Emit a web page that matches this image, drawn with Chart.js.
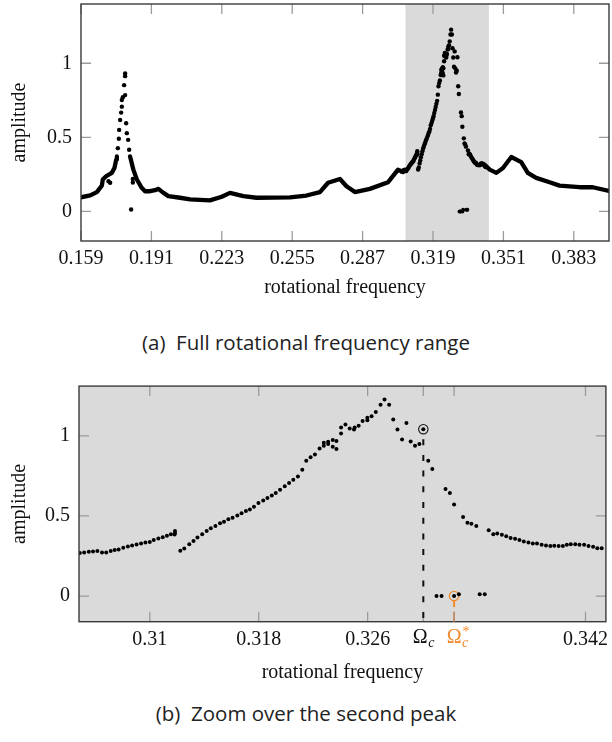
<!DOCTYPE html>
<html>
<head>
<meta charset="utf-8">
<script src="https://cdn.jsdelivr.net/npm/chart.js@4.4.0/dist/chart.umd.min.js"></script>
<style>
  html, body { margin: 0; padding: 0; background: #fff; }
  body { width: 612px; height: 742px; position: relative; overflow: hidden; }
  .box { position: absolute; left: 0; width: 612px; }
  .cap { position: absolute; left: 0; width: 612px; text-align: center; font-family: 'Open Sans', 'Noto Sans', sans-serif; font-size: 20.5px; line-height: 26px; color: #222; }
</style>
</head>
<body>
<div class="box" style="top:0;height:300px"><canvas id="full"></canvas></div>
<div class="cap" style="top:329px">(a)&nbsp; Full rotational frequency range</div>
<div class="box" style="top:380px;height:306px"><canvas id="zoom"></canvas></div>
<div class="cap" style="top:700px">(b)&nbsp; Zoom over the second peak</div>
<script>
// continuous branch of the full sweep (null = break in the curve)
const lineFreq = [0.1590, 0.1632, 0.1662, 0.1685, 0.1689, 0.1704, 0.1730, 0.1742, 0.1750, 0.1753, 0.1780,
  0.1813, 0.1828, 0.1844, 0.1866, 0.1881, 0.1904, 0.1927, 0.1942, 0.1965, 0.1987, 0.2040, 0.2086,
  0.2176, 0.2230, 0.2267, 0.2328, 0.2388, 0.2540, 0.2615, 0.2676, 0.2713, 0.2767, 0.2797, 0.2835,
  0.2903, 0.2986, 0.3031, 0.3054, 0.3100,
  0.3425, 0.3448, 0.3478, 0.3508, 0.3546, 0.3591, 0.3621, 0.3659, 0.3720, 0.3765, 0.3856, 0.3916, 0.3990];
const lineAmp = [0.095, 0.108, 0.130, 0.175, 0.215, 0.237, 0.260, 0.293, 0.349, 0.371, null,
  0.371, 0.282, 0.215, 0.159, 0.136, 0.136, 0.143, 0.152, 0.125, 0.103, 0.092, 0.081,
  0.074, 0.099, 0.125, 0.103, 0.092, 0.094, 0.107, 0.130, 0.193, 0.219, 0.170, 0.130,
  0.152, 0.197, 0.282, 0.266, null,
  0.315, 0.282, 0.260, 0.293, 0.367, 0.333, 0.260, 0.226, 0.197, 0.174, 0.163, 0.163, 0.138];

// sparse points around the first peak
const peakFreq = [0.17575, 0.17620, 0.17634, 0.17679, 0.17725, 0.17756, 0.17756, 0.17802, 0.17906, 0.17861,
  0.17906, 0.17906, 0.17952, 0.17983, 0.18042, 0.18088, 0.17150, 0.17225, 0.18256, 0.18256, 0.18179];
const peakAmp = [0.427, 0.490, 0.550, 0.617, 0.667, 0.707, 0.752, 0.770, 0.785, 0.852,
  0.913, 0.931, 0.595, 0.528, 0.483, 0.416, 0.203, 0.193, 0.219, 0.195, 0.013];

// second peak, upper branch
const zoomFreq = [0.30486, 0.30518, 0.30552, 0.30583, 0.30615, 0.30649, 0.30680, 0.30713, 0.30742, 0.30771,
  0.30805, 0.30839, 0.30870, 0.30903, 0.30936, 0.30968, 0.31000, 0.31029, 0.31063, 0.31095,
  0.31126, 0.31155, 0.31185, 0.31185, 0.31182,
  0.31224, 0.31253, 0.31290, 0.31321, 0.31350, 0.31385, 0.31418, 0.31448, 0.31482, 0.31516,
  0.31545, 0.31577, 0.31608, 0.31643, 0.31674, 0.31706, 0.31735, 0.31765, 0.31798, 0.31833,
  0.31864, 0.31896, 0.31925, 0.31957, 0.31991, 0.32023, 0.32054, 0.32088, 0.32120, 0.32149,
  0.32181, 0.32213, 0.32247, 0.32278, 0.32278, 0.32310, 0.32310, 0.32344, 0.32344, 0.32371,
  0.32371, 0.32405, 0.32405, 0.32437, 0.32468, 0.32500, 0.32505, 0.32534, 0.32563, 0.32598,
  0.32598, 0.32629, 0.32660, 0.32695, 0.32724, 0.32758, 0.32788, 0.32819, 0.32853, 0.32885,
  0.32916, 0.32948, 0.32980, 0.33009, 0.33045, 0.33075, 0.33172, 0.33204, 0.33235, 0.33301,
  0.33333, 0.33362, 0.33398, 0.33489, 0.33523, 0.33552, 0.33586, 0.33618, 0.33650, 0.33683,
  0.33715, 0.33747, 0.33781, 0.33813, 0.33844, 0.33878, 0.33910, 0.33942, 0.33971, 0.34003,
  0.34034, 0.34063, 0.34092, 0.34125, 0.34156, 0.34190, 0.34222, 0.34256, 0.34287, 0.34319];
const zoomAmp = [0.268, 0.272, 0.276, 0.278, 0.281, 0.272, 0.272, 0.281, 0.287, 0.291,
  0.301, 0.309, 0.315, 0.322, 0.328, 0.334, 0.338, 0.349, 0.359, 0.367,
  0.377, 0.386, 0.394, 0.406, 0.384,
  0.283, 0.297, 0.324, 0.344, 0.365, 0.386, 0.406, 0.423, 0.437, 0.454,
  0.464, 0.479, 0.489, 0.503, 0.516, 0.530, 0.540, 0.557, 0.581, 0.596,
  0.612, 0.627, 0.643, 0.664, 0.685, 0.705, 0.726, 0.746, 0.788, 0.845,
  0.866, 0.884, 0.921, 0.938, 0.957, 0.963, 0.949, 0.973, 0.932, 0.967,
  0.918, 1.014, 1.051, 1.070, 1.045, 1.039, 1.051, 1.062, 1.093, 1.097,
  1.113, 1.122, 1.148, 1.194, 1.227, 1.194, 1.101, 1.039, 0.977, 1.080,
  0.965, 0.938, 0.949, 1.041, 0.845, 0.792, 0.668, 0.643, 0.571, 0.493,
  0.458, 0.451, 0.437, 0.411, 0.386, 0.390, 0.382, 0.373, 0.363, 0.357,
  0.349, 0.340, 0.334, 0.328, 0.328, 0.320, 0.315, 0.312, 0.314, 0.312,
  0.312, 0.320, 0.324, 0.324, 0.320, 0.320, 0.312, 0.307, 0.299, 0.299];

// second peak, lower branch
const lowFreq = [0.33106, 0.33143, 0.33235, 0.33270, 0.33423, 0.33460];
const lowAmp = [0.0, 0.0, 0.0, 0.011, 0.011, 0.011];

const OMEGA_C = 0.33009;
const OMEGA_C_AMP = 1.041;
const OMEGA_C_STAR = 0.33235;
const OMEGA_C_STAR_AMP = 0.0;

const fullTicks = [0.159, 0.191, 0.223, 0.255, 0.287, 0.319, 0.351, 0.383];
const zoomTicks = [0.31, 0.318, 0.326, OMEGA_C, OMEGA_C_STAR, 0.342];
const zoomTickLabels = ['0.31', '0.318', '0.326', '', '', '0.342'];
const ampTicks = [0, 0.5, 1];
const zoomBand = [0.3065, 0.3444];

const SERIF = '"Liberation Serif", "DejaVu Serif", serif';
const ORANGE = '#f28a2e';
const SHADE = '#dadada';

function pts(xs, ys) {
  return xs.map((x, i) => ({ x: x, y: ys[i] }));
}

const frame = {
  id: 'frame',
  beforeDatasetsDraw(chart, args, opts) {
    const { ctx, chartArea: a, scales: { x, y } } = chart;
    ctx.save();
    if (opts.fillAll) {
      ctx.fillStyle = SHADE;
      ctx.fillRect(a.left, a.top, a.width, a.height);
    }
    if (opts.band) {
      const x0 = x.getPixelForValue(opts.band[0]);
      const x1 = x.getPixelForValue(opts.band[1]);
      ctx.fillStyle = SHADE;
      ctx.fillRect(x0, a.top, x1 - x0, a.height);
    }
    ctx.strokeStyle = '#9c9c9c';
    ctx.lineWidth = 1.3;
    const L = 10;
    ctx.beginPath();
    x.ticks.forEach(t => {
      const p = x.getPixelForValue(t.value);
      ctx.moveTo(p, a.bottom); ctx.lineTo(p, a.bottom - L);
      ctx.moveTo(p, a.top); ctx.lineTo(p, a.top + L);
    });
    y.ticks.forEach(t => {
      const p = y.getPixelForValue(t.value);
      ctx.moveTo(a.left, p); ctx.lineTo(a.left + L, p);
      ctx.moveTo(a.right, p); ctx.lineTo(a.right - L, p);
    });
    ctx.stroke();
    ctx.restore();
  },
  afterDatasetsDraw(chart) {
    const { ctx, chartArea: a } = chart;
    ctx.save();
    ctx.strokeStyle = '#3a3a3a';
    ctx.lineWidth = 1.4;
    ctx.strokeRect(a.left, a.top, a.width, a.height);
    ctx.restore();
  }
};

function axisOptions(min, max, ticks, labelFn, width, height, title) {
  return {
    x: {
      type: 'linear', min: min, max: max,
      grid: { display: false, drawTicks: false },
      border: { display: false },
      afterBuildTicks: s => { s.ticks = ticks.map(v => ({ value: v })); },
      afterFit: s => { s.height = height; s.paddingLeft = 0; s.paddingRight = 0; },
      ticks: { autoSkip: false, maxRotation: 0, padding: 6, color: '#111', font: { family: SERIF, size: 20 }, callback: labelFn },
      title: { display: true, text: 'rotational frequency', color: '#111', font: { family: SERIF, size: 20 }, padding: { top: 0, bottom: title } }
    },
    y: {
      type: 'linear',
      grid: { display: false, drawTicks: false },
      border: { display: false },
      afterBuildTicks: s => { s.ticks = ampTicks.map(v => ({ value: v })); },
      afterFit: s => { s.width = width; s.paddingTop = 0; s.paddingBottom = 0; },
      ticks: { padding: 9, color: '#111', font: { family: SERIF, size: 20 }, callback: v => String(v) },
      title: { display: true, text: 'amplitude', color: '#111', font: { family: SERIF, size: 20 }, padding: { top: 8, bottom: 0 } }
    }
  };
}

const dotStyle = { showLine: false, pointRadius: 2, pointHoverRadius: 2, pointBackgroundColor: '#000', pointBorderWidth: 0 };

// (a) full range
const fullScales = axisOptions(0.159, 0.399, fullTicks, v => v.toFixed(3), 81, 59, 0);
fullScales.y.min = -0.2;
fullScales.y.max = 1.4;
new Chart(document.getElementById('full'), {
  type: 'scatter',
  data: {
    datasets: [
      { data: pts(lineFreq, lineAmp), showLine: true, spanGaps: false, borderColor: '#000', borderWidth: 4.3,
        borderCapStyle: 'round', borderJoinStyle: 'round', pointRadius: 0, pointHoverRadius: 0 },
      Object.assign({ data: pts(peakFreq, peakAmp) }, dotStyle, { pointRadius: 2.2 }),
      Object.assign({ data: pts(zoomFreq, zoomAmp) }, dotStyle, { pointRadius: 2.2 }),
      Object.assign({ data: pts(lowFreq, lowAmp) }, dotStyle)
    ]
  },
  options: {
    responsive: true, maintainAspectRatio: false, animation: false,
    layout: { padding: { top: 4, right: 3, left: 0, bottom: 0 } },
    scales: fullScales,
    plugins: { legend: { display: false }, tooltip: { enabled: false }, frame: { band: zoomBand } }
  },
  plugins: [frame]
});

// (b) zoom on the second peak
function drawOmega(ctx, px, top, color, star) {
  ctx.save();
  ctx.fillStyle = color;
  ctx.textBaseline = 'top';
  ctx.font = '20px ' + SERIF;
  const wO = ctx.measureText('Ω').width;
  ctx.font = 'italic 14px ' + SERIF;
  const wc = ctx.measureText('c').width;
  const start = star ? px - wO / 2 : px - (wO + wc) / 2;
  ctx.font = '20px ' + SERIF;
  ctx.fillText('Ω', start, top);
  ctx.font = 'italic 14px ' + SERIF;
  ctx.fillText('c', start + wO + 0.5, top + 9);
  if (star) {
    ctx.font = '14px ' + SERIF;
    ctx.fillText('*', start + wO + 1, top - 2);
  }
  ctx.restore();
}

const markers = {
  id: 'markers',
  afterDatasetsDraw(chart) {
    const { ctx, chartArea: a, scales: { x, y } } = chart;
    const cx = x.getPixelForValue(OMEGA_C), cy = y.getPixelForValue(OMEGA_C_AMP);
    const ox = x.getPixelForValue(OMEGA_C_STAR), oy = y.getPixelForValue(OMEGA_C_STAR_AMP);
    ctx.save();
    ctx.strokeStyle = '#111';
    ctx.lineWidth = 2;
    ctx.setLineDash([6, 9.7]);
    ctx.beginPath(); ctx.moveTo(cx, cy + 10); ctx.lineTo(cx, a.bottom); ctx.stroke();
    ctx.setLineDash([]);
    ctx.strokeStyle = ORANGE;
    ctx.lineWidth = 2;
    ctx.beginPath(); ctx.moveTo(ox, oy + 4.7); ctx.lineTo(ox, oy + 11); ctx.stroke();
    ctx.strokeStyle = '#c58a5c';
    ctx.lineWidth = 1.6;
    ctx.beginPath(); ctx.moveTo(ox, a.bottom); ctx.lineTo(ox, a.bottom - 10); ctx.stroke();
    ctx.restore();
  },
  afterDraw(chart) {
    const { ctx, scales: { x } } = chart;
    const top = x.top + 6;
    drawOmega(ctx, x.getPixelForValue(OMEGA_C), top, '#111', false);
    drawOmega(ctx, x.getPixelForValue(OMEGA_C_STAR), top, ORANGE, true);
  }
};

const zoomScales = axisOptions(0.3048, 0.3435, zoomTicks, (v, i) => zoomTickLabels[i], 79, 64.3, 1.2);
zoomScales.y.min = -0.16;
zoomScales.y.max = 1.31;
new Chart(document.getElementById('zoom'), {
  type: 'scatter',
  data: {
    datasets: [
      Object.assign({ data: pts(zoomFreq, zoomAmp) }, dotStyle),
      Object.assign({ data: pts(lowFreq, lowAmp) }, dotStyle),
      { data: [{ x: OMEGA_C, y: OMEGA_C_AMP }], showLine: false, pointRadius: 4.7, pointHoverRadius: 4.7,
        pointBackgroundColor: 'rgba(0,0,0,0)', pointBorderColor: '#111', pointBorderWidth: 1.1 },
      { data: [{ x: OMEGA_C_STAR, y: OMEGA_C_STAR_AMP }], showLine: false, pointRadius: 4.7, pointHoverRadius: 4.7,
        pointBackgroundColor: 'rgba(0,0,0,0)', pointBorderColor: ORANGE, pointBorderWidth: 1.4 }
    ]
  },
  options: {
    responsive: true, maintainAspectRatio: false, animation: false,
    layout: { padding: { top: 4, right: 3.7, left: 0, bottom: 0 } },
    scales: zoomScales,
    plugins: { legend: { display: false }, tooltip: { enabled: false }, frame: { fillAll: true } }
  },
  plugins: [frame, markers]
});
</script>
</body>
</html>
